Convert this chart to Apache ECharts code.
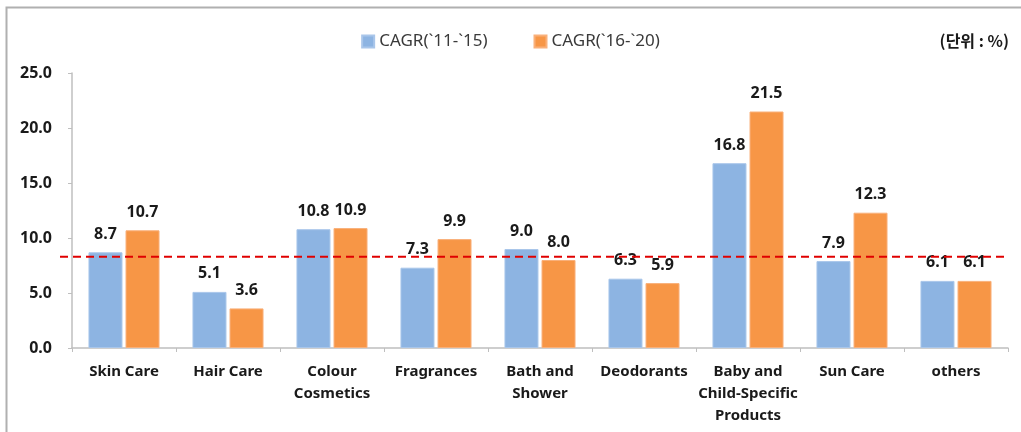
<!DOCTYPE html>
<html>
<head>
<meta charset="utf-8">
<script src="https://cdn.jsdelivr.net/npm/echarts@6/dist/echarts.min.js"></script>
<style>
  html, body { margin: 0; padding: 0; background: #fff; }
  #chart { width: 1021px; height: 432px; }
</style>
</head>
<body>
<div id="chart"></div>
<script>
// Category labels (line breaks as printed under the axis)
const categories = [
  'Skin Care', 'Hair Care', 'Colour\nCosmetics', 'Fragrances', 'Bath and\nShower',
  'Deodorants', 'Baby and\nChild-Specific\nProducts', 'Sun Care', 'others'
];
// Compound annual growth rate, %
const cagr1115 = [8.7, 5.1, 10.8, 7.3, 9.0, 6.3, 16.8, 7.9, 6.1];
const cagr1620 = [10.7, 3.6, 10.9, 9.9, 8.0, 5.9, 21.5, 12.3, 6.1];
const seriesNames = ['CAGR(`11-`15)', 'CAGR(`16-`20)'];
// Overall market growth reference level, %
const referenceLevel = 8.3;
const unitLabel = '(단위 : %)';

const FONT = '"Noto Sans", "Noto Sans CJK KR", sans-serif';

const chart = echarts.init(document.getElementById('chart'));

const labelStyle = {
  show: true,
  position: 'top',
  distance: 10,
  formatter: p => p.value.toFixed(1),
  fontFamily: FONT,
  fontWeight: 'bold',
  fontSize: 16,
  color: '#1a1a1a'
};

chart.setOption({
  animation: false,
  backgroundColor: '#fff',
  textStyle: { fontFamily: FONT },
  grid: { left: 72, right: 13, top: 73, bottom: 84 },
  legend: {
    top: 28,
    left: 'center',
    itemWidth: 12,
    itemHeight: 12,
    itemGap: 46,
    icon: 'rect',
    textStyle: { fontFamily: FONT, fontSize: 17, color: '#3a3a3a' },
    data: seriesNames
  },
  xAxis: {
    type: 'category',
    data: categories,
    axisLine: { lineStyle: { color: '#bfbfbf', width: 1.5 } },
    axisTick: { show: true, length: 4, lineStyle: { color: '#bfbfbf' } },
    axisLabel: {
      interval: 0,
      margin: 13,
      fontFamily: FONT,
      fontWeight: 'bold',
      fontSize: 15,
      lineHeight: 22,
      color: '#1a1a1a'
    }
  },
  yAxis: {
    type: 'value',
    min: 0,
    max: 25,
    interval: 5,
    splitLine: { show: false },
    axisLine: { show: true, lineStyle: { color: '#bfbfbf', width: 1.5 } },
    axisTick: { show: true, length: 4, lineStyle: { color: '#bfbfbf' } },
    axisLabel: {
      margin: 20,
      formatter: v => v.toFixed(1),
      fontFamily: FONT,
      fontWeight: 'bold',
      fontSize: 16,
      color: '#1a1a1a'
    }
  },
  series: [
    {
      name: seriesNames[0],
      type: 'bar',
      data: cagr1115,
      barWidth: 34,
      barGap: '9%',
      itemStyle: { color: '#8db4e2', borderColor: '#a9c6ea', borderWidth: 1 },
      label: labelStyle
    },
    {
      name: seriesNames[1],
      type: 'bar',
      data: cagr1620,
      barWidth: 34,
      itemStyle: { color: '#f79646', borderColor: '#f9b07a', borderWidth: 1 },
      label: labelStyle
    }
  ]
});

// Reference line, frame and unit caption drawn as graphics
const refY = chart.convertToPixel({ yAxisIndex: 0 }, referenceLevel);
chart.setOption({
  graphic: [
    {
      type: 'line',
      shape: { x1: 60, y1: refY, x2: 1006, y2: refY },
      style: { stroke: '#e00000', lineWidth: 2, lineDash: [8, 5] },
      z: 10
    },
    {
      type: 'polyline',
      shape: { points: [[6.5, 432], [6.5, 7.5], [1021, 7.5]] },
      style: { stroke: '#b0b0b0', lineWidth: 2, fill: null },
      z: 1
    },
    {
      type: 'text',
      right: 12,
      top: 33,
      style: {
        text: unitLabel,
        fontFamily: '"Noto Sans CJK KR", sans-serif',
        fontWeight: 'bold',
        fontSize: 16,
        fill: '#1a1a1a'
      }
    }
  ]
});
</script>
</body>
</html>
